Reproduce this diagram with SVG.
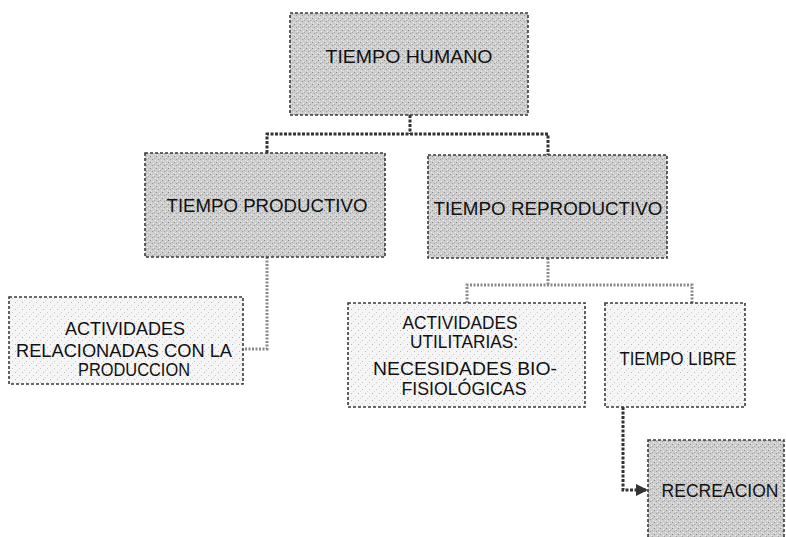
<svg xmlns="http://www.w3.org/2000/svg" width="786" height="537" viewBox="0 0 786 537">
  <defs>
    <pattern id="darkTex" width="6" height="6" patternUnits="userSpaceOnUse">
      <rect width="6" height="6" fill="#cdcdcd"/>
      <rect x="0" y="0" width="1" height="1" fill="#8c8c8c"/>
      <rect x="3" y="1" width="1" height="1" fill="#f2f2f2"/>
      <rect x="2" y="3" width="1" height="1" fill="#9a9a9a"/>
      <rect x="5" y="4" width="1" height="1" fill="#efefef"/>
      <rect x="4" y="2" width="1" height="1" fill="#a5a5a5"/>
      <rect x="1" y="5" width="1" height="1" fill="#e8e8e8"/>
    </pattern>
    <pattern id="lightTex" width="7" height="7" patternUnits="userSpaceOnUse">
      <rect width="7" height="7" fill="#f5f5f5"/>
      <rect x="1" y="1" width="1" height="1" fill="#b8b8b8"/>
      <rect x="5" y="4" width="1" height="1" fill="#c8c8c8"/>
      <rect x="3" y="6" width="1" height="1" fill="#d6d6d6"/>
    </pattern>
    <marker id="arr" viewBox="0 0 6 6" refX="5" refY="3" markerWidth="4" markerHeight="4" orient="auto">
      <path d="M0,0 L6,3 L0,6 Z" fill="#333"/>
    </marker>
  </defs>
  <style>
    .dark { fill: url(#darkTex); stroke: #3a3a3a; stroke-width: 1.6; stroke-dasharray: 3 2; }
    .light { fill: url(#lightTex); stroke: #3a3a3a; stroke-width: 1.6; stroke-dasharray: 3 2; }
    .lbl { font-family: "Liberation Sans", Arial, sans-serif; font-size: 18px; fill: #111; text-anchor: middle; }
    .big { font-size: 19px; }
    .conn { fill: none; stroke: #333; stroke-width: 3; stroke-dasharray: 3 1.5; }
    .connLight { fill: none; stroke: #8a8a8a; stroke-width: 3; stroke-dasharray: 2 1.5; }
  </style>

  <g id="connectors">
    <path class="conn" d="M410,115 V134"/>
    <path class="conn" d="M267,153 V134 H548 V155"/>
    <path class="connLight" d="M267,257 V349 H244"/>
    <path class="connLight" d="M548,258 V285"/>
    <path class="connLight" d="M467,303 V285 H692 V303"/>
    <path class="conn" d="M623,407 V490 H646" marker-end="url(#arr)"/>
  </g>

  <g id="tiempo-humano">
    <rect class="dark" x="290" y="13" width="238" height="102"/>
    <text class="lbl big" x="409" y="63" textLength="167" lengthAdjust="spacingAndGlyphs">TIEMPO HUMANO</text>
  </g>

  <g id="tiempo-productivo">
    <rect class="dark" x="145" y="153" width="240" height="104"/>
    <text class="lbl big" x="267" y="212" textLength="201" lengthAdjust="spacingAndGlyphs">TIEMPO PRODUCTIVO</text>
  </g>

  <g id="tiempo-reproductivo">
    <rect class="dark" x="428" y="155" width="239" height="103"/>
    <text class="lbl big" x="548" y="215" textLength="229" lengthAdjust="spacingAndGlyphs">TIEMPO REPRODUCTIVO</text>
  </g>

  <g id="actividades-produccion">
    <rect class="light" x="9" y="297" width="234" height="87"/>
    <text class="lbl" x="125" y="335" textLength="120" lengthAdjust="spacingAndGlyphs">ACTIVIDADES</text>
    <text class="lbl" x="124" y="357" textLength="216" lengthAdjust="spacingAndGlyphs">RELACIONADAS CON LA</text>
    <text class="lbl" x="134" y="376" textLength="112" lengthAdjust="spacingAndGlyphs">PRODUCCION</text>
  </g>

  <g id="actividades-utilitarias">
    <rect class="light" x="348" y="303" width="237" height="104"/>
    <text class="lbl" x="460" y="329" textLength="115" lengthAdjust="spacingAndGlyphs">ACTIVIDADES</text>
    <text class="lbl" x="464" y="348" textLength="108" lengthAdjust="spacingAndGlyphs">UTILITARIAS:</text>
    <text class="lbl" x="465" y="375" textLength="184" lengthAdjust="spacingAndGlyphs">NECESIDADES  BIO-</text>
    <text class="lbl" x="464" y="395" textLength="125" lengthAdjust="spacingAndGlyphs">FISIOLÓGICAS</text>
  </g>

  <g id="tiempo-libre">
    <rect class="light" x="605" y="303" width="140" height="104"/>
    <text class="lbl" x="678" y="365" textLength="117" lengthAdjust="spacingAndGlyphs">TIEMPO LIBRE</text>
  </g>

  <g id="recreacion">
    <rect class="dark" x="648" y="440" width="136" height="110"/>
    <text class="lbl" x="720" y="497" textLength="117" lengthAdjust="spacingAndGlyphs">RECREACION</text>
  </g>
</svg>
